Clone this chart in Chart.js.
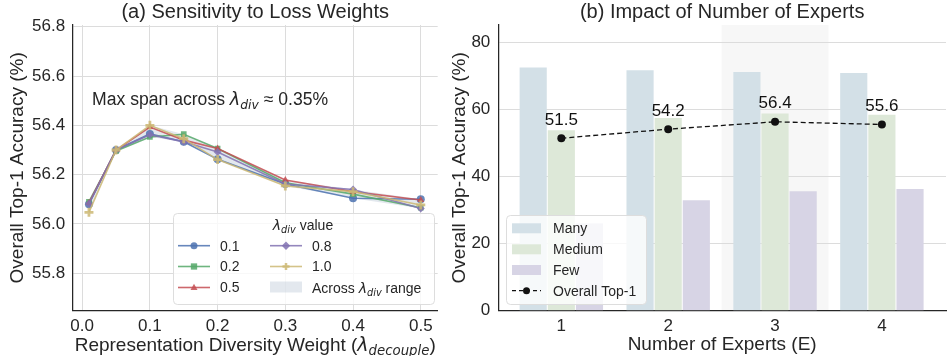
<!DOCTYPE html>
<html>
<head>
<meta charset="utf-8">
<script src="https://cdn.jsdelivr.net/npm/chart.js@4.4.1/dist/chart.umd.min.js"></script>
<style>
  html, body { margin: 0; padding: 0; background: #fff; }
  #wrap { position: relative; width: 950px; height: 356px; }
  #left { position: absolute; left: 0; top: 0; }
  #right { position: absolute; left: 445px; top: 0; }
</style>
</head>
<body>
<div id="wrap">
  <canvas id="left" width="445" height="356"></canvas>
  <canvas id="right" width="505" height="356"></canvas>
</div>
<script>
// ================= DATA: (a) sensitivity =================
const decoupleWeights = [0.01, 0.05, 0.1, 0.15, 0.2, 0.3, 0.4, 0.5];
const divLabels = ["0.1", "0.2", "0.5", "0.8", "1.0"];
const acc01 = [56.080, 56.300, 56.365, 56.333, 56.262, 56.162, 56.104, 56.100];
const acc02 = [56.090, 56.296, 56.353, 56.364, 56.306, 56.167, 56.121, 56.066];
const acc05 = [56.085, 56.300, 56.393, 56.340, 56.306, 56.178, 56.131, 56.097];
const acc08 = [56.082, 56.300, 56.362, 56.333, 56.292, 56.162, 56.140, 56.063];
const acc10 = [56.047, 56.300, 56.400, 56.346, 56.261, 56.154, 56.131, 56.077];
const leftXTicks = [0.0, 0.1, 0.2, 0.3, 0.4, 0.5];
const leftYTicks = [55.8, 56.0, 56.2, 56.4, 56.6, 56.8];

// ================= DATA: (b) number of experts =================
const experts = [1, 2, 3, 4];
const manyAcc = [72.6, 71.8, 71.3, 71.0];
const mediumAcc = [53.9, 57.5, 58.9, 58.5];
const fewAcc = [26.0, 33.0, 35.7, 36.3];
const overallAcc = [51.5, 54.2, 56.4, 55.6];
const rightYTicks = [0, 20, 40, 60, 80];
const highlightExpert = 3;

// ================= STYLE =================
const FONT = "'Liberation Sans', Arial, sans-serif";
const MATH = "'DejaVu Sans', sans-serif";
const lineColors = ["#4C72B0", "#55A868", "#C44E52", "#8172B2", "#CCB974"];
const markers = ["circle", "rect", "triangle", "rectRot", "cross"];
const bandColor = "rgba(176,190,205,0.35)";
const gridColor = "#dcdcdc";

// ================= HELPERS =================
function runFont(r, size) {
    const s = r.sub ? size * 0.7 : size;
    return r.m ? `italic ${s}px ${MATH}` : `${s}px ${FONT}`;
}

function drawRich(ctx, runs, x, cy, size, align) {
    ctx.save();
    let total = 0;
    runs.forEach(r => { ctx.font = runFont(r, size); r.w = ctx.measureText(r.t).width; total += r.w; });
    let cx = align === "center" ? x - total / 2 : x;
    const base = cy + size * 0.36;
    ctx.textBaseline = "alphabetic";
    ctx.textAlign = "left";
    runs.forEach(r => {
        ctx.font = runFont(r, size);
        ctx.fillText(r.t, cx, r.sub ? base + size * 0.22 : base);
        cx += r.w;
    });
    ctx.restore();
}

function drawMarker(ctx, style, x, y, r, color) {
    ctx.save();
    ctx.fillStyle = color;
    ctx.strokeStyle = color;
    ctx.beginPath();
    if (style === "circle") {
        ctx.arc(x, y, r, 0, Math.PI * 2);
        ctx.fill();
    } else if (style === "rect") {
        ctx.fillRect(x - r * 0.9, y - r * 0.9, r * 1.8, r * 1.8);
    } else if (style === "triangle") {
        ctx.moveTo(x, y - r * 1.1);
        ctx.lineTo(x + r, y + r * 0.7);
        ctx.lineTo(x - r, y + r * 0.7);
        ctx.closePath();
        ctx.fill();
    } else if (style === "rectRot") {
        ctx.moveTo(x, y - r * 1.2);
        ctx.lineTo(x + r * 1.2, y);
        ctx.lineTo(x, y + r * 1.2);
        ctx.lineTo(x - r * 1.2, y);
        ctx.closePath();
        ctx.fill();
    } else {
        ctx.lineWidth = 2.5;
        ctx.moveTo(x - r, y); ctx.lineTo(x + r, y);
        ctx.moveTo(x, y - r); ctx.lineTo(x, y + r);
        ctx.stroke();
    }
    ctx.restore();
}

function legendBox(ctx, x, y, w, h) {
    ctx.save();
    ctx.fillStyle = "rgba(255,255,255,0.8)";
    ctx.strokeStyle = "#dddddd";
    ctx.lineWidth = 1;
    ctx.beginPath();
    ctx.roundRect(x + 0.5, y + 0.5, w, h, 4);
    ctx.fill();
    ctx.stroke();
    ctx.restore();
}

// ================= LEFT CHART =================
const series = [acc01, acc02, acc05, acc08, acc10];
const bandLow = decoupleWeights.map((_, i) => Math.min(...series.map(s => s[i])));
const bandHigh = decoupleWeights.map((_, i) => Math.max(...series.map(s => s[i])));
const toPts = arr => arr.map((v, i) => ({ x: decoupleWeights[i], y: v }));

const leftDatasets = [
    { label: "low", data: toPts(bandLow), borderWidth: 0, pointRadius: 0, fill: false, order: 20 },
    { label: "Across range", data: toPts(bandHigh), borderWidth: 0, pointRadius: 0,
      fill: "-1", backgroundColor: bandColor, order: 19 }
];
series.forEach((s, i) => {
    leftDatasets.push({
        label: divLabels[i],
        data: toPts(s),
        borderColor: lineColors[i] + "d9",
        backgroundColor: lineColors[i] + "d9",
        borderWidth: 1.6,
        pointStyle: markers[i],
        pointRadius: markers[i] === "cross" ? 4.5 : 4,
        pointBorderWidth: markers[i] === "cross" ? 2.8 : 0,
        pointBorderColor: lineColors[i] + "d9",
        order: 10 - i
    });
});

const leftText = {
    id: "leftText",
    afterDraw(chart) {
        const ctx = chart.ctx;
        const a = chart.chartArea;
        ctx.save();
        ctx.fillStyle = "#262626";
        ctx.font = `20px ${FONT}`;
        ctx.textAlign = "center";
        ctx.textBaseline = "middle";
        ctx.fillText("(a) Sensitivity to Loss Weights", (a.left + a.right) / 2, 12);
        ctx.restore();

        ctx.fillStyle = "#262626";
        drawRich(ctx, [{ t: "Representation Diversity Weight (" }, { t: "λ", m: 1 },
            { t: "decouple", m: 1, sub: 1 }, { t: ")" }], (a.left + a.right) / 2, 344, 19, "center");
        drawRich(ctx, [{ t: "Max span across " }, { t: "λ", m: 1 }, { t: "div", m: 1, sub: 1 },
            { t: " ≈ 0.35%" }], 92, 99, 17.6, "left");

        // legend
        legendBox(ctx, 173, 213, 261, 91);
        ctx.fillStyle = "#262626";
        drawRich(ctx, [{ t: "λ", m: 1 }, { t: "div", m: 1, sub: 1 }, { t: " value" }], 303, 225, 14, "center");
        const rows = [245.7, 266.5, 287.5];
        divLabels.forEach((lab, i) => {
            const col = i < 3 ? 0 : 1;
            const y = rows[col === 0 ? i : i - 3];
            const x0 = col === 0 ? 178 : 270;
            ctx.save();
            ctx.strokeStyle = lineColors[i] + "d9";
            ctx.lineWidth = 1.6;
            ctx.beginPath();
            ctx.moveTo(x0, y); ctx.lineTo(x0 + 32, y);
            ctx.stroke();
            ctx.restore();
            drawMarker(ctx, markers[i], x0 + 16, y, 3.5, lineColors[i] + "d9");
            ctx.save();
            ctx.fillStyle = "#262626";
            ctx.font = `14px ${FONT}`;
            ctx.textBaseline = "middle";
            ctx.fillText(lab, x0 + 42, y + 1);
            ctx.restore();
        });
        ctx.save();
        ctx.fillStyle = bandColor;
        ctx.fillRect(270, rows[2] - 6, 32, 11);
        ctx.restore();
        ctx.fillStyle = "#262626";
        drawRich(ctx, [{ t: "Across " }, { t: "λ", m: 1 }, { t: "div", m: 1, sub: 1 }, { t: " range" }],
            312, rows[2], 14, "left");
    }
};

new Chart(document.getElementById("left"), {
    type: "line",
    data: { datasets: leftDatasets },
    options: {
        responsive: false,
        animation: false,
        layout: { padding: { top: 25, right: 3.5, left: 0, bottom: 0 } },
        plugins: { legend: { display: false }, tooltip: { enabled: false } },
        elements: { line: { tension: 0 } },
        scales: {
            x: {
                type: "linear",
                min: -0.014,
                max: 0.525,
                afterBuildTicks: axis => { axis.ticks = leftXTicks.map(v => ({ value: v })); },
                afterFit: axis => { axis.height = 45.3; },
                ticks: { color: "#262626", font: { size: 17, family: FONT }, padding: 5,
                         callback: v => v.toFixed(1) },
                grid: { color: gridColor, drawTicks: false },
                border: { color: "#262626", width: 1.25 }
            },
            y: {
                min: 55.648,
                max: 56.807,
                afterBuildTicks: axis => { axis.ticks = leftYTicks.map(v => ({ value: v })); },
                afterFit: axis => { axis.width = 72.7; },
                ticks: { color: "#262626", font: { size: 17, family: FONT }, padding: 7.5,
                         callback: v => v.toFixed(1) },
                grid: { color: gridColor, drawTicks: false },
                border: { color: "#262626", width: 1.25 },
                title: { display: true, text: "Overall Top-1 Accuracy (%)", color: "#262626",
                         font: { size: 19, family: FONT }, padding: { top: 6 } }
            }
        }
    },
    plugins: [leftText]
});

// ================= RIGHT CHART =================
const toBar = arr => arr.map((v, i) => ({ x: experts[i], y: v }));
const barColors = ["#d3e0e7", "#dde8d8", "#d7d4e5"];

const highlightBand = {
    id: "highlightBand",
    beforeDraw(chart) {
        const ctx = chart.ctx;
        const a = chart.chartArea;
        const xs = chart.scales.x;
        const x0 = xs.getPixelForValue(highlightExpert - 0.5);
        const x1 = xs.getPixelForValue(highlightExpert + 0.5);
        ctx.save();
        ctx.fillStyle = "#f7f7f7";
        ctx.fillRect(x0, a.top, x1 - x0, a.bottom - a.top);
        ctx.restore();
    }
};

const rightText = {
    id: "rightText",
    afterDraw(chart) {
        const ctx = chart.ctx;
        const a = chart.chartArea;
        ctx.save();
        ctx.fillStyle = "#262626";
        ctx.font = `20px ${FONT}`;
        ctx.textAlign = "center";
        ctx.textBaseline = "middle";
        ctx.fillText("(b) Impact of Number of Experts", (a.left + a.right) / 2, 12);
        ctx.font = `19px ${FONT}`;
        ctx.fillText("Number of Experts (E)", (a.left + a.right) / 2, 345);

        // value labels over the overall line
        const meta = chart.getDatasetMeta(3);
        ctx.fillStyle = "#111";
        ctx.font = `17px ${FONT}`;
        meta.data.forEach((pt, i) => {
            ctx.fillText(overallAcc[i].toFixed(1), pt.x, pt.y - 18);
        });
        ctx.restore();

        // legend
        const ox = -445;
        legendBox(ctx, 506 + ox, 215, 140, 89);
        const rows = [228.3, 249.3, 270, 290.7];
        const names = ["Many", "Medium", "Few", "Overall Top-1"];
        ctx.save();
        barColors.forEach((c, i) => {
            ctx.fillStyle = c;
            ctx.fillRect(512 + ox, rows[i] - 5, 29, 10);
        });
        ctx.strokeStyle = "#111";
        ctx.lineWidth = 1.3;
        ctx.setLineDash([4, 3]);
        ctx.beginPath();
        ctx.moveTo(512 + ox, rows[3]); ctx.lineTo(541 + ox, rows[3]);
        ctx.stroke();
        ctx.setLineDash([]);
        drawMarker(ctx, "circle", 526.5 + ox, rows[3], 3.5, "#111");
        ctx.fillStyle = "#262626";
        ctx.font = `14px ${FONT}`;
        ctx.textBaseline = "middle";
        names.forEach((n, i) => ctx.fillText(n, 553 + ox, rows[i] + 1));
        ctx.restore();
    }
};

new Chart(document.getElementById("right"), {
    type: "bar",
    data: {
        datasets: [
            { label: "Many", data: toBar(manyAcc), backgroundColor: barColors[0], order: 2 },
            { label: "Medium", data: toBar(mediumAcc), backgroundColor: barColors[1], order: 2 },
            { label: "Few", data: toBar(fewAcc), backgroundColor: barColors[2], order: 2 },
            { type: "line", label: "Overall Top-1", data: toBar(overallAcc), borderColor: "#111",
              backgroundColor: "#111", borderWidth: 1.3, borderDash: [5, 3], pointRadius: 4,
              pointBorderWidth: 0, order: 1 }
        ]
    },
    options: {
        responsive: false,
        animation: false,
        layout: { padding: { top: 25, right: 0, left: 0, bottom: 0 } },
        plugins: { legend: { display: false }, tooltip: { enabled: false } },
        datasets: { bar: { categoryPercentage: 0.79, barPercentage: 0.965 } },
        scales: {
            x: {
                type: "linear",
                offset: false,
                min: 0.41,
                max: 4.6,
                afterBuildTicks: axis => { axis.ticks = experts.map(v => ({ value: v })); },
                afterFit: axis => { axis.height = 45.3; },
                ticks: { color: "#262626", font: { size: 17, family: FONT }, padding: 5,
                         callback: v => String(v) },
                grid: { display: false, drawTicks: false, offset: false },
                border: { color: "#262626", width: 1.25 }
            },
            y: {
                min: 0,
                max: 85.3,
                afterBuildTicks: axis => { axis.ticks = rightYTicks.map(v => ({ value: v })); },
                afterFit: axis => { axis.width = 53.3; },
                ticks: { color: "#262626", font: { size: 17, family: FONT }, padding: 8 },
                grid: { color: gridColor, drawTicks: false },
                border: { color: "#262626", width: 1.25 },
                title: { display: true, text: "Overall Top-1 Accuracy (%)", color: "#262626",
                         font: { size: 19, family: FONT }, padding: { top: 3.5 } }
            }
        }
    },
    plugins: [highlightBand, rightText]
});
</script>
</body>
</html>
